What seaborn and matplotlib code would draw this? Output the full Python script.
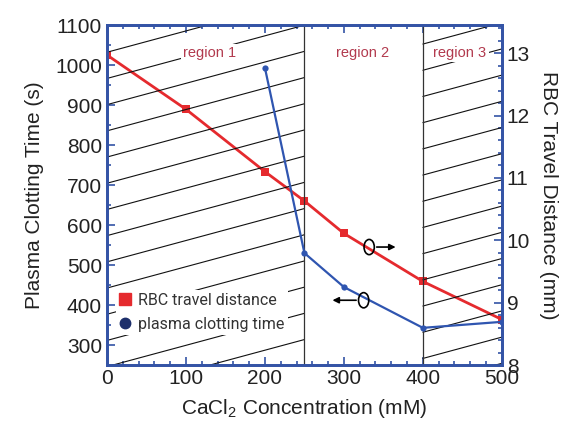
import numpy as np
import pandas as pd
import matplotlib
matplotlib.use("Agg")
import matplotlib.pyplot as plt
from matplotlib.patches import Ellipse
from matplotlib.lines import Line2D
from matplotlib.ticker import MultipleLocator
import seaborn as sns

# ── Data ──────────────────────────────────────────────────────────────────────
rbc_conc = [0, 100, 200, 250, 300, 400, 500]
rbc_distance = [12.97, 12.10, 11.10, 10.63, 10.11, 9.34, 8.73]

clot_conc = [200, 250, 300, 400, 500]
clot_time = [993, 530, 445, 343, 358]

region_names = ["region 1", "region 2", "region 3"]
region_bounds = [(0, 250), (250, 400), (400, 500)]

sns.set_theme(style="ticks")
plt.rcParams["font.family"] = ["Liberation Sans", "DejaVu Sans"]
plt.rcParams["mathtext.fontset"] = "custom"
plt.rcParams["mathtext.rm"] = "Liberation Sans"
plt.rcParams["mathtext.default"] = "regular"

RED = "#e52a2e"
BLUE = "#2f55b0"
NAVY = "#1d2f6b"
SPINE = "#3454a6"
TXT = "#222222"

fig = plt.figure(figsize=(5.69, 4.32), dpi=100)
ax = fig.add_axes([0.188, 0.155, 0.694, 0.787])
ax2 = ax.twinx()

ax.set_xlim(0, 500)
ax.set_ylim(250, 1100)
ax2.set_ylim(8, 13.45)

# ── Hatching for regions 1 and 3 ─────────────────────────────────────────────
slope = 0.533
for (x0, x1), c0 in [((0, 250), 1032), ((400, 500), 987)]:
    xs = np.array([x0, x1])
    for k in range(-6, 22):
        c = c0 - 65.5 * k
        ax.plot(xs, c + slope * (xs - x0), color="#111111", lw=0.8, zorder=1)

for xb in [250, 400]:
    ax.axvline(xb, color="#333333", lw=0.9, zorder=2)

# region labels
for name, xc in zip(region_names, [130, 323, 447]):
    ax.text(xc, 1030, name, color="#b23a4e", fontsize=10.5, ha="center",
            va="center", zorder=4,
            bbox=dict(facecolor="white", edgecolor="none", pad=1.5))

# ── Series ────────────────────────────────────────────────────────────────────
clot_df = pd.DataFrame({"conc": clot_conc, "time": clot_time})
rbc_df = pd.DataFrame({"conc": rbc_conc, "dist": rbc_distance})

sns.lineplot(data=clot_df, x="conc", y="time", ax=ax, color=BLUE, lw=1.6,
             marker="o", markersize=4.5, markeredgewidth=0, zorder=5)
sns.lineplot(data=rbc_df, x="conc", y="dist", ax=ax2, color=RED, lw=2,
             marker="s", markersize=5.5, markeredgewidth=0, zorder=5)

# ── Ellipses with arrows ──────────────────────────────────────────────────────
ax.add_patch(Ellipse((332, 545), 13, 38, facecolor="none",
                     edgecolor="black", lw=1.2, zorder=6))
ax.annotate("", xy=(369, 545), xytext=(338, 545),
            arrowprops=dict(arrowstyle="-|>", color="black", lw=1.2,
                            mutation_scale=9), zorder=6)
ax.add_patch(Ellipse((325, 412), 13, 38, facecolor="none",
                     edgecolor="black", lw=1.2, zorder=6))
ax.annotate("", xy=(282, 412), xytext=(319, 412),
            arrowprops=dict(arrowstyle="-|>", color="black", lw=1.2,
                            mutation_scale=9), zorder=6)

# ── Legend ────────────────────────────────────────────────────────────────────
handles = [Line2D([], [], ls="none", marker="s", color=RED, markersize=8),
           Line2D([], [], ls="none", marker="o", color=NAVY, markersize=7.5)]
leg = ax.legend(handles, ["RBC travel distance", "plasma clotting time"],
                loc="upper left", bbox_to_anchor=(0.022, 0.222),
                frameon=True, fancybox=False, framealpha=1,
                edgecolor="none", handlelength=0.8, handletextpad=0.4,
                labelspacing=0.55, borderpad=0.2, borderaxespad=0,
                prop={"family": ["Roboto", "DejaVu Sans"], "size": 11.5})
for t in leg.get_texts():
    t.set_color("#333333")
leg.set_zorder(7)

# ── Axes styling ──────────────────────────────────────────────────────────────
ax.xaxis.set_major_locator(MultipleLocator(100))
ax.xaxis.set_minor_locator(MultipleLocator(20))
ax.yaxis.set_major_locator(MultipleLocator(100))
ax.yaxis.set_minor_locator(MultipleLocator(50))
ax2.yaxis.set_major_locator(MultipleLocator(1))
ax2.yaxis.set_minor_locator(MultipleLocator(0.2))

ax.tick_params(which="both", direction="in", color=SPINE, top=True,
               right=False, labelsize=15, labelcolor=TXT, width=1.2)
ax.tick_params(which="major", length=6)
ax.tick_params(which="minor", length=3)
ax2.tick_params(which="both", direction="in", color=SPINE, labelsize=15,
                labelcolor=TXT, width=1.2)
ax2.tick_params(which="major", length=6)
ax2.tick_params(which="minor", length=3)
ax.tick_params(axis="x", pad=3)

for a in (ax, ax2):
    for s in a.spines.values():
        s.set_visible(True)
        s.set_color(SPINE)
        s.set_linewidth(2)

ax.set_xlabel(r"CaCl$_2$ Concentration (mM)", fontsize=15, color=TXT,
              labelpad=6)
ax.set_ylabel("Plasma Clotting Time (s)", fontsize=15, color=TXT,
              labelpad=8)
ax2.set_ylabel("RBC Travel Distance (mm)", fontsize=15, color=TXT,
               rotation=270, labelpad=20)

ax.set_zorder(ax2.get_zorder() + 1)
ax.patch.set_visible(False)

fig.savefig("out.png", dpi=100, facecolor="white")
